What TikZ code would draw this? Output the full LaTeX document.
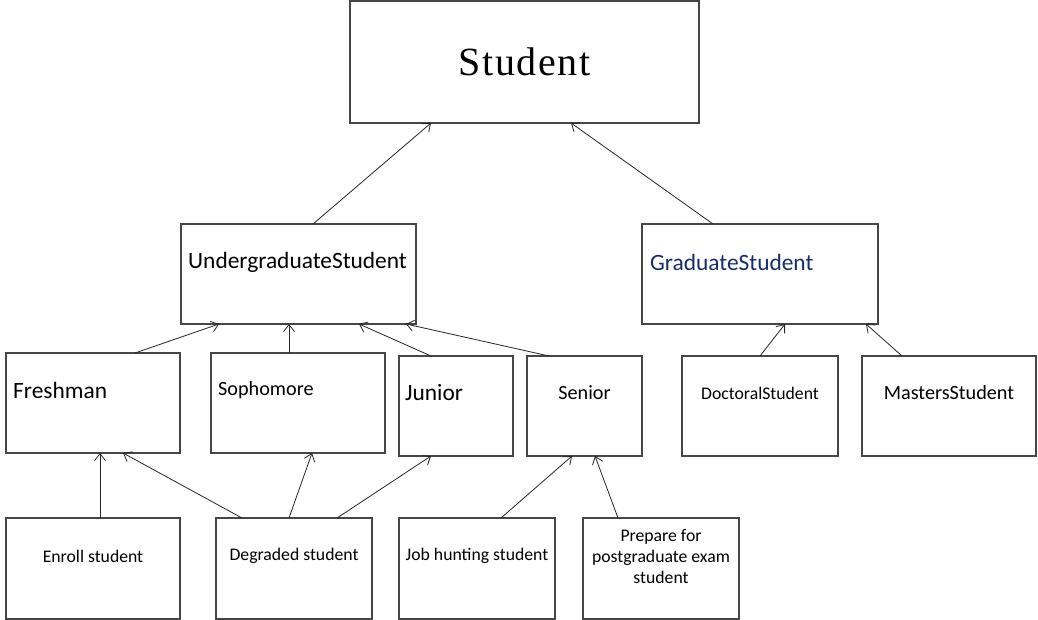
\documentclass[tikz,border=0pt]{standalone}
\usepackage{fontspec}
\setmainfont{Carlito}
\newfontfamily\serifhead[LetterSpace=4]{Liberation Serif}
\usetikzlibrary{arrows.meta}
\definecolor{boxline}{RGB}{70,70,70}
\definecolor{navy}{RGB}{23,45,100}
\tikzset{
  box/.style={draw=boxline, line width=1.1pt, inner sep=0pt, outer sep=0pt, fill=white},
  big/.style={font=\fontsize{23.4}{27}\selectfont},
  mid/.style={font=\fontsize{20.2}{24}\selectfont},
  small/.style={font=\fontsize{17.7}{21}\selectfont},
  leftlbl/.style={anchor=west, inner sep=0pt},
  conn/.style={draw=black!85, line width=0.8pt, -{Straight Barb[length=7pt,width=11pt,line width=0.8pt]}}
}
\begin{document}
\begin{tikzpicture}[x=1pt,y=-1pt]
\useasboundingbox[fill=white] (0,0) rectangle (1038,620);
% boxes
\node[box, minimum width=349pt, minimum height=122pt, font=\serifhead\fontsize{40}{44}\selectfont] (student) at (524.5,62) {Student};
\node[box, minimum width=235pt, minimum height=100pt, label={[big, leftlbl, xshift=7pt, yshift=12pt]west:UndergraduateStudent}] (under) at (298.5,274) {};
\node[box, minimum width=236pt, minimum height=100pt, label={[big, leftlbl, text=navy, xshift=8pt, yshift=12pt]west:GraduateStudent}] (grad) at (760,274) {};
\node[box, minimum width=174pt, minimum height=100pt, label={[big, leftlbl, xshift=7pt, yshift=13pt]west:Freshman}] (fresh) at (93,403) {};
\node[box, minimum width=174pt, minimum height=100pt, label={[mid, leftlbl, xshift=7pt, yshift=13pt]west:Sophomore}] (soph) at (298,403) {};
\node[box, minimum width=114pt, minimum height=100pt, label={[big, leftlbl, xshift=6pt, yshift=13pt]west:Junior}] (junior) at (456,406) {};
\node[box, minimum width=115pt, minimum height=100pt, label={[mid, yshift=13pt]center:Senior}] (senior) at (584.5,406) {};
\node[box, minimum width=156pt, minimum height=100pt, label={[small, yshift=13pt]center:DoctoralStudent}] (doc) at (760,406) {};
\node[box, minimum width=174pt, minimum height=100pt, label={[mid, yshift=13pt]center:MastersStudent}] (mast) at (949,406) {};
\node[box, minimum width=174pt, minimum height=101pt, label={[small, yshift=12.5pt]center:Enroll student}] (enroll) at (93,568.5) {};
\node[box, minimum width=156pt, minimum height=101pt, label={[small, yshift=12.5pt]center:Degraded student}] (degr) at (294,568.5) {};
\node[box, minimum width=156pt, minimum height=101pt, label={[small, yshift=12.5pt]center:Job hunting student}] (job) at (477,568.5) {};
\node[box, minimum width=156pt, minimum height=101pt, label={[small, align=center, yshift=12.5pt]center:Prepare for\\postgraduate exam\\student}] (prep) at (661,568.5) {};
% connectors
\draw[conn] ([xshift=132pt]under.north west) -- ([xshift=81pt]student.south west);
\draw[conn] ([xshift=71pt]grad.north west) -- ([xshift=221pt]student.south west);
\draw[conn] ([xshift=129pt]fresh.north west) -- ([xshift=38pt]under.south west);
\draw[conn] ([xshift=78pt]soph.north west) -- ([xshift=108pt]under.south west);
\draw[conn] ([xshift=32pt]junior.north west) -- ([xshift=178pt]under.south west);
\draw[conn] ([xshift=22pt]senior.north west) -- ([xshift=225pt]under.south west);
\draw[conn] ([xshift=78pt]doc.north west) -- ([xshift=143pt]grad.south west);
\draw[conn] ([xshift=40pt]mast.north west) -- ([xshift=224pt]grad.south west);
\draw[conn] ([xshift=94pt]enroll.north west) -- ([xshift=94pt]fresh.south west);
\draw[conn] ([xshift=26pt]degr.north west) -- ([xshift=117pt]fresh.south west);
\draw[conn] ([xshift=73pt]degr.north west) -- ([xshift=101pt]soph.south west);
\draw[conn] ([xshift=121pt]degr.north west) -- ([xshift=32pt]junior.south west);
\draw[conn] ([xshift=102pt]job.north west) -- ([xshift=45pt]senior.south west);
\draw[conn] ([xshift=35pt]prep.north west) -- ([xshift=68pt]senior.south west);
\end{tikzpicture}
\end{document}
